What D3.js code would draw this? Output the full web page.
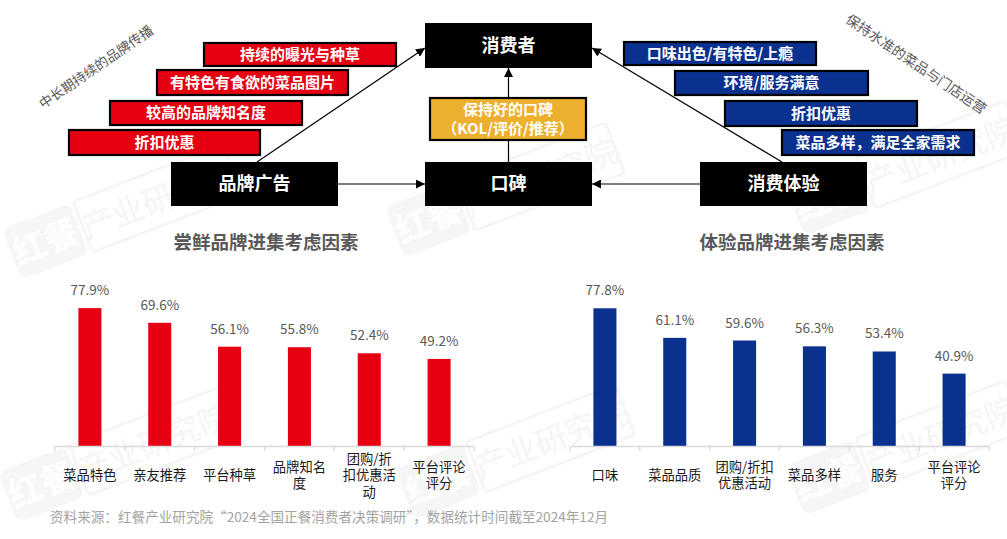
<!DOCTYPE html>
<html><head><meta charset="utf-8">
<script src="https://cdn.jsdelivr.net/npm/d3@7"></script>
<style>
html,body{margin:0;padding:0;background:#fff;}
svg{display:block;font-family:"Noto Sans CJK SC","Noto Sans",sans-serif;}
</style></head>
<body>
<svg id="c" width="1007" height="539"></svg>
<script>
// ---------- data ----------
const leftTitle = "尝鲜品牌进集考虑因素";
const leftCats = ["菜品特色","亲友推荐","平台种草","品牌知名\n度","团购/折\n扣优惠活\n动","平台评论\n评分"];
const leftVals = [77.9,69.6,56.1,55.8,52.4,49.2];
const rightTitle = "体验品牌进集考虑因素";
const rightCats = ["口味","菜品品质","团购/折扣\n优惠活动","菜品多样","服务","平台评论\n评分"];
const rightVals = [77.8,61.1,59.6,56.3,53.4,40.9];
const adFactors = ["持续的曝光与种草","有特色有食欲的菜品图片","较高的品牌知名度","折扣优惠"];
const expFactors = ["口味出色/有特色/上瘾","环境/服务满意","折扣优惠","菜品多样，满足全家需求"];
const nodeLabels = {consumer:"消费者", wom:"口碑", ad:"品牌广告", exp:"消费体验"};
const womNote = ["保持好的口碑","（KOL/评价/推荐）"];
const leftNote = "中长期持续的品牌传播";
const rightNote = "保持水准的菜品与门店运营";
const source = "资料来源：红餐产业研究院“2024全国正餐消费者决策调研”，数据统计时间截至2024年12月";

const RED = "#E60012", BLUE = "#0B318F", GOLD = "#EDAF2E";
const svg = d3.select("#c");

// ---------- watermarks ----------
const wm = svg.append("g");
[[122,212],[505,190],[905,168],[118,455],[515,452],[905,448]].forEach(([x,y])=>{
  const g = wm.append("g").attr("transform",`translate(${x},${y}) rotate(-21)`);
  g.append("rect").attr("x",-118).attr("y",-27).attr("width",72).attr("height",54).attr("rx",8)
    .attr("fill","#f6f6f6");
  g.append("text").attr("x",-82).attr("y",13).attr("text-anchor","middle")
    .attr("font-size",34).attr("font-weight",700).attr("fill","#ffffff").text("红餐");
  g.append("rect").attr("x",-42).attr("y",-27).attr("width",160).attr("height",54).attr("rx",4)
    .attr("fill","none").attr("stroke","#f6f6f6").attr("stroke-width",3);
  g.append("text").attr("x",38).attr("y",13).attr("text-anchor","middle")
    .attr("font-size",32).attr("fill","#f5f5f5").text("产业研究院");
});

// ---------- diagram ----------
const defs = svg.append("defs");
defs.append("marker").attr("id","arr").attr("viewBox","0 0 10 10").attr("refX",10).attr("refY",5)
  .attr("markerWidth",9).attr("markerHeight",9).attr("markerUnits","userSpaceOnUse").attr("orient","auto")
  .append("path").attr("d","M0,0L10,5L0,10Z").attr("fill","#000");

const boxes = {
  consumer:{x:425,y:23,w:167,h:45},
  wom:{x:425,y:162,w:167,h:44},
  ad:{x:171,y:162,w:167,h:44},
  exp:{x:700,y:162,w:167,h:44}
};
const arrows = [
  [boxes.ad.x+boxes.ad.w, 184, boxes.wom.x, 184],
  [boxes.exp.x, 184, boxes.wom.x+boxes.wom.w, 184],
  [508.5, boxes.wom.y, 508.5, boxes.consumer.y+boxes.consumer.h],
  [257, 162, 425, 48],
  [782, 162, 592, 48]
];
svg.append("g").selectAll("line").data(arrows).join("line")
  .attr("x1",d=>d[0]).attr("y1",d=>d[1]).attr("x2",d=>d[2]).attr("y2",d=>d[3])
  .attr("stroke","#000").attr("stroke-width",1.2).attr("marker-end","url(#arr)");

function box(g, x, y, w, h, fill, lines, fs, border){
  g.append("rect").attr("x",x+(border?1:0)).attr("y",y+(border?1:0))
    .attr("width",w-(border?2:0)).attr("height",h-(border?2:0))
    .attr("fill",fill).attr("stroke",border?"#000":"none").attr("stroke-width",border?2.2:0);
  const lh = fs*1.3;
  lines.forEach((t,i)=>{
    g.append("text").attr("x",x+w/2).attr("y",y+h/2+(i-(lines.length-1)/2)*lh)
      .attr("dy","0.36em").attr("text-anchor","middle").attr("font-size",fs)
      .attr("font-weight",700).attr("fill","#fff").text(t);
  });
}
const dg = svg.append("g");
box(dg, 429, 97, 158, 44, GOLD, womNote, 15, true);
Object.keys(boxes).forEach(k=>{
  const b = boxes[k];
  box(dg, b.x, b.y, b.w, b.h, "#000", [nodeLabels[k]], 18, false);
});
const redPos = [[203,42,194,25],[156,69,193,27],[109,100,194,26],[68,129,193,27]];
adFactors.forEach((t,i)=>{ const p=redPos[i]; box(dg,p[0],p[1],p[2],p[3],RED,[t],15,true); });
const bluePos = [[623,41,194,25],[674,70,195,26],[724,100,194,27],[781,129,194,27]];
expFactors.forEach((t,i)=>{ const p=bluePos[i]; box(dg,p[0],p[1],p[2],p[3],BLUE,[t],15,true); });

svg.append("text").attr("transform","translate(96,67) rotate(-34.5)").attr("text-anchor","middle")
  .attr("dy","0.36em").attr("font-size",13.5).attr("fill","#595959").text(leftNote);
svg.append("text").attr("transform","translate(916,64) rotate(34)").attr("text-anchor","middle")
  .attr("dy","0.36em").attr("font-size",13.8).attr("fill","#595959").text(rightNote);

// ---------- bar charts ----------
function barChart(x0, x1, cats, vals, color, title, titleX){
  const g = svg.append("g");
  const xs = d3.scaleBand().domain(cats).range([x0,x1]).paddingInner(0.67).paddingOuter(0.335);
  const ys = d3.scaleLinear().domain([0,100]).range([446, 269]);
  g.append("text").attr("x",titleX).attr("y",242).attr("dy","0.36em").attr("text-anchor","middle")
    .attr("font-size",18.5).attr("font-weight",700).attr("fill","#595959").text(title);
  g.selectAll("rect.bar").data(cats).join("rect").attr("class","bar")
    .attr("x",d=>xs(d)).attr("width",xs.bandwidth())
    .attr("y",(d,i)=>ys(vals[i])).attr("height",(d,i)=>ys(0)-ys(vals[i])).attr("fill",color);
  g.selectAll("text.val").data(cats).join("text").attr("class","val")
    .attr("x",d=>xs(d)+xs.bandwidth()/2).attr("y",(d,i)=>ys(vals[i])-13)
    .attr("text-anchor","middle").attr("font-size",13.5).attr("fill","#595959")
    .text((d,i)=>vals[i].toFixed(1)+"%");
  const ax = g.append("g").attr("transform",`translate(0,${ys(0)})`)
    .call(d3.axisBottom(xs).tickSize(0).tickFormat(""));
  ax.select(".domain").attr("stroke","#d9d9d9").attr("stroke-width",1.3);
  const step = xs.step();
  g.selectAll("line.tk").data(d3.range(cats.length+1)).join("line").attr("class","tk")
    .attr("x1",i=>x0+i*step).attr("x2",i=>x0+i*step).attr("y1",ys(0)).attr("y2",ys(0)+5)
    .attr("stroke","#d9d9d9").attr("stroke-width",1.3);
  cats.forEach(c=>{
    const lines = c.split("\n");
    lines.forEach((t,j)=>{
      g.append("text").attr("x",xs(c)+xs.bandwidth()/2)
        .attr("y",475.5+(j-(lines.length-1)/2)*16.3).attr("dy","0.36em")
        .attr("text-anchor","middle").attr("font-size",13.3).attr("fill","#1a1a1a").text(t);
    });
  });
}
barChart(55, 474, leftCats, leftVals, RED, leftTitle, 266);
barChart(570, 989, rightCats, rightVals, BLUE, rightTitle, 792);

svg.append("text").attr("x",50).attr("y",517).attr("dy","0.36em").attr("font-size",13.6)
  .attr("fill","#a3a3a3").text(source);
</script>
</body></html>
